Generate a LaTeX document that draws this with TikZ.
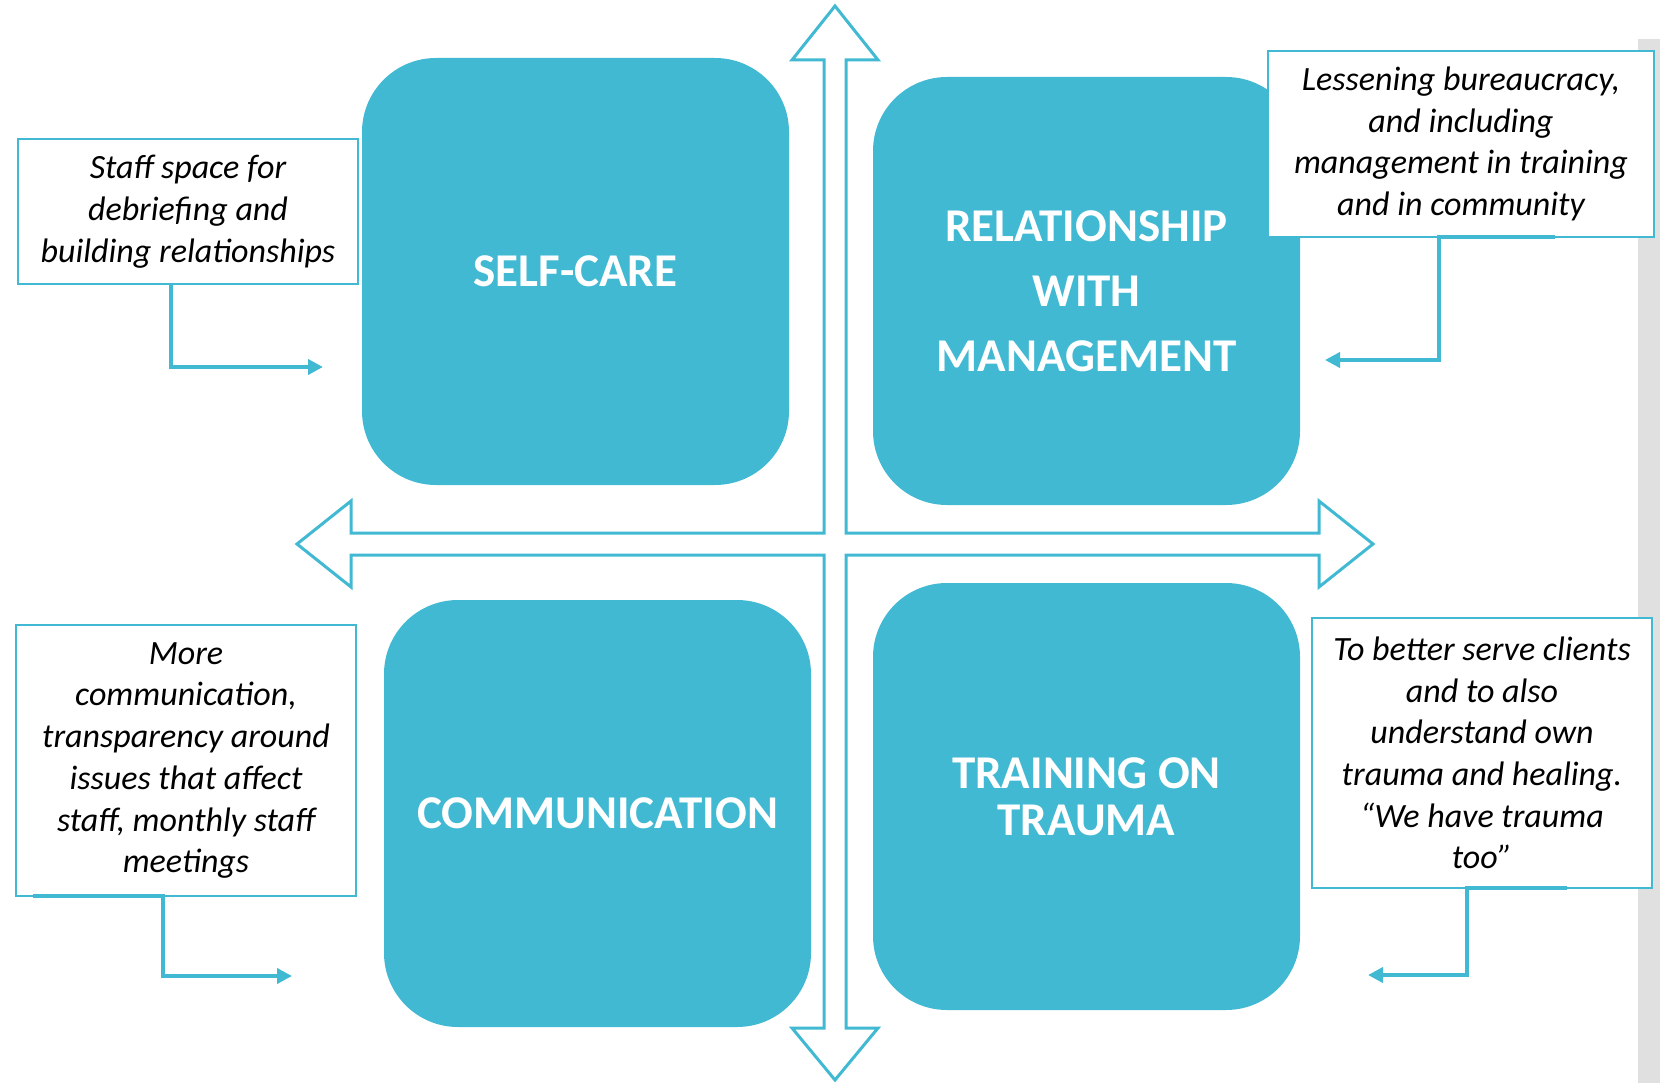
\documentclass[tikz,border=0pt]{standalone}
\usepackage{fontspec}
\setmainfont{Carlito}
\usetikzlibrary{arrows.meta}
\definecolor{teal1}{RGB}{66,185,211}
\definecolor{stripgray}{RGB}{224,224,224}
\tikzset{
  sq/.style={fill=teal1, draw=none, rounded corners=74pt, minimum width=427pt, minimum height=427pt, inner sep=0pt, text=white, align=center, font=\bfseries\fontsize{47}{65}\selectfont},
  note/.style={draw=teal1, line width=2.5pt, fill=white, inner sep=0pt, align=center, font=\itshape\fontsize{34}{41.7}\selectfont},
  conn/.style={draw=teal1, line width=4pt, -{Triangle[length=15pt,width=15pt]}},
  crossline/.style={draw=teal1, line width=3pt, line join=miter}
}
\begin{document}
\begin{tikzpicture}[x=1pt,y=-1pt]
\useasboundingbox (0,0) rectangle (1660,1083);
% grey strip on right
\fill[stripgray] (1638,39) rectangle (1660,1083);
% four quadrant squares
\node[sq] (s1) at (575.5,271.5) {SELF-CARE};
\node[sq, minimum height=428pt] (s2) at (1086.5,291) {RELATIONSHIP\\WITH\\MANAGEMENT};
\node[sq, font=\bfseries\fontsize{47}{47}\selectfont] (s4) at (1086.5,796.5) {TRAINING ON\\TRAUMA};
\node[sq] (s3) at (597.5,813.5) {COMMUNICATION};
% four-way arrow outline
\draw[crossline] (835,6) -- (878,60) -- (846,60) -- (846,533) -- (1319,533) -- (1319,501) -- (1373,544)
  -- (1319,587) -- (1319,555) -- (846,555) -- (846,1028) -- (878,1028) -- (835,1080) -- (792,1028)
  -- (824,1028) -- (824,555) -- (351,555) -- (351,587) -- (297,544) -- (351,501) -- (351,533)
  -- (824,533) -- (824,60) -- (792,60) -- cycle;
% note boxes
\node[note, minimum width=340pt, minimum height=145pt] (b1) at (188,211.5) {Staff space for\\debriefing and\\building relationships};
\node[note, minimum width=386pt, minimum height=186pt] (b2) at (1461,144) {Lessening bureaucracy,\\and including\\management in training\\and in community};
\node[note, minimum width=340pt, minimum height=271pt] (b3) at (186,760.5) {More\\communication,\\transparency around\\issues that affect\\staff, monthly staff\\meetings};
\node[note, minimum width=340pt, minimum height=270pt] (b4) at (1482,753) {To better serve clients\\and to also\\understand own\\trauma and healing.\\“We have trauma\\too”};
% connector coordinates
\coordinate (c1s) at (171,284);
\coordinate (c1e) at (323,367);
\coordinate (c2s) at (1555,237);
\coordinate (c2m) at (1439,237);
\coordinate (c2e) at (1325,360);
\coordinate (c3s) at (33,896);
\coordinate (c3m) at (163,896);
\coordinate (c3e) at (292,976);
\coordinate (c4s) at (1567,888);
\coordinate (c4m) at (1467,888);
\coordinate (c4e) at (1368,975);
% connectors
\draw[conn] (c1s) |- (c1e);
\draw[conn] (c2s) -- (c2m) |- (c2e);
\draw[conn] (c3s) -- (c3m) |- (c3e);
\draw[conn] (c4s) -- (c4m) |- (c4e);
\end{tikzpicture}
\end{document}
